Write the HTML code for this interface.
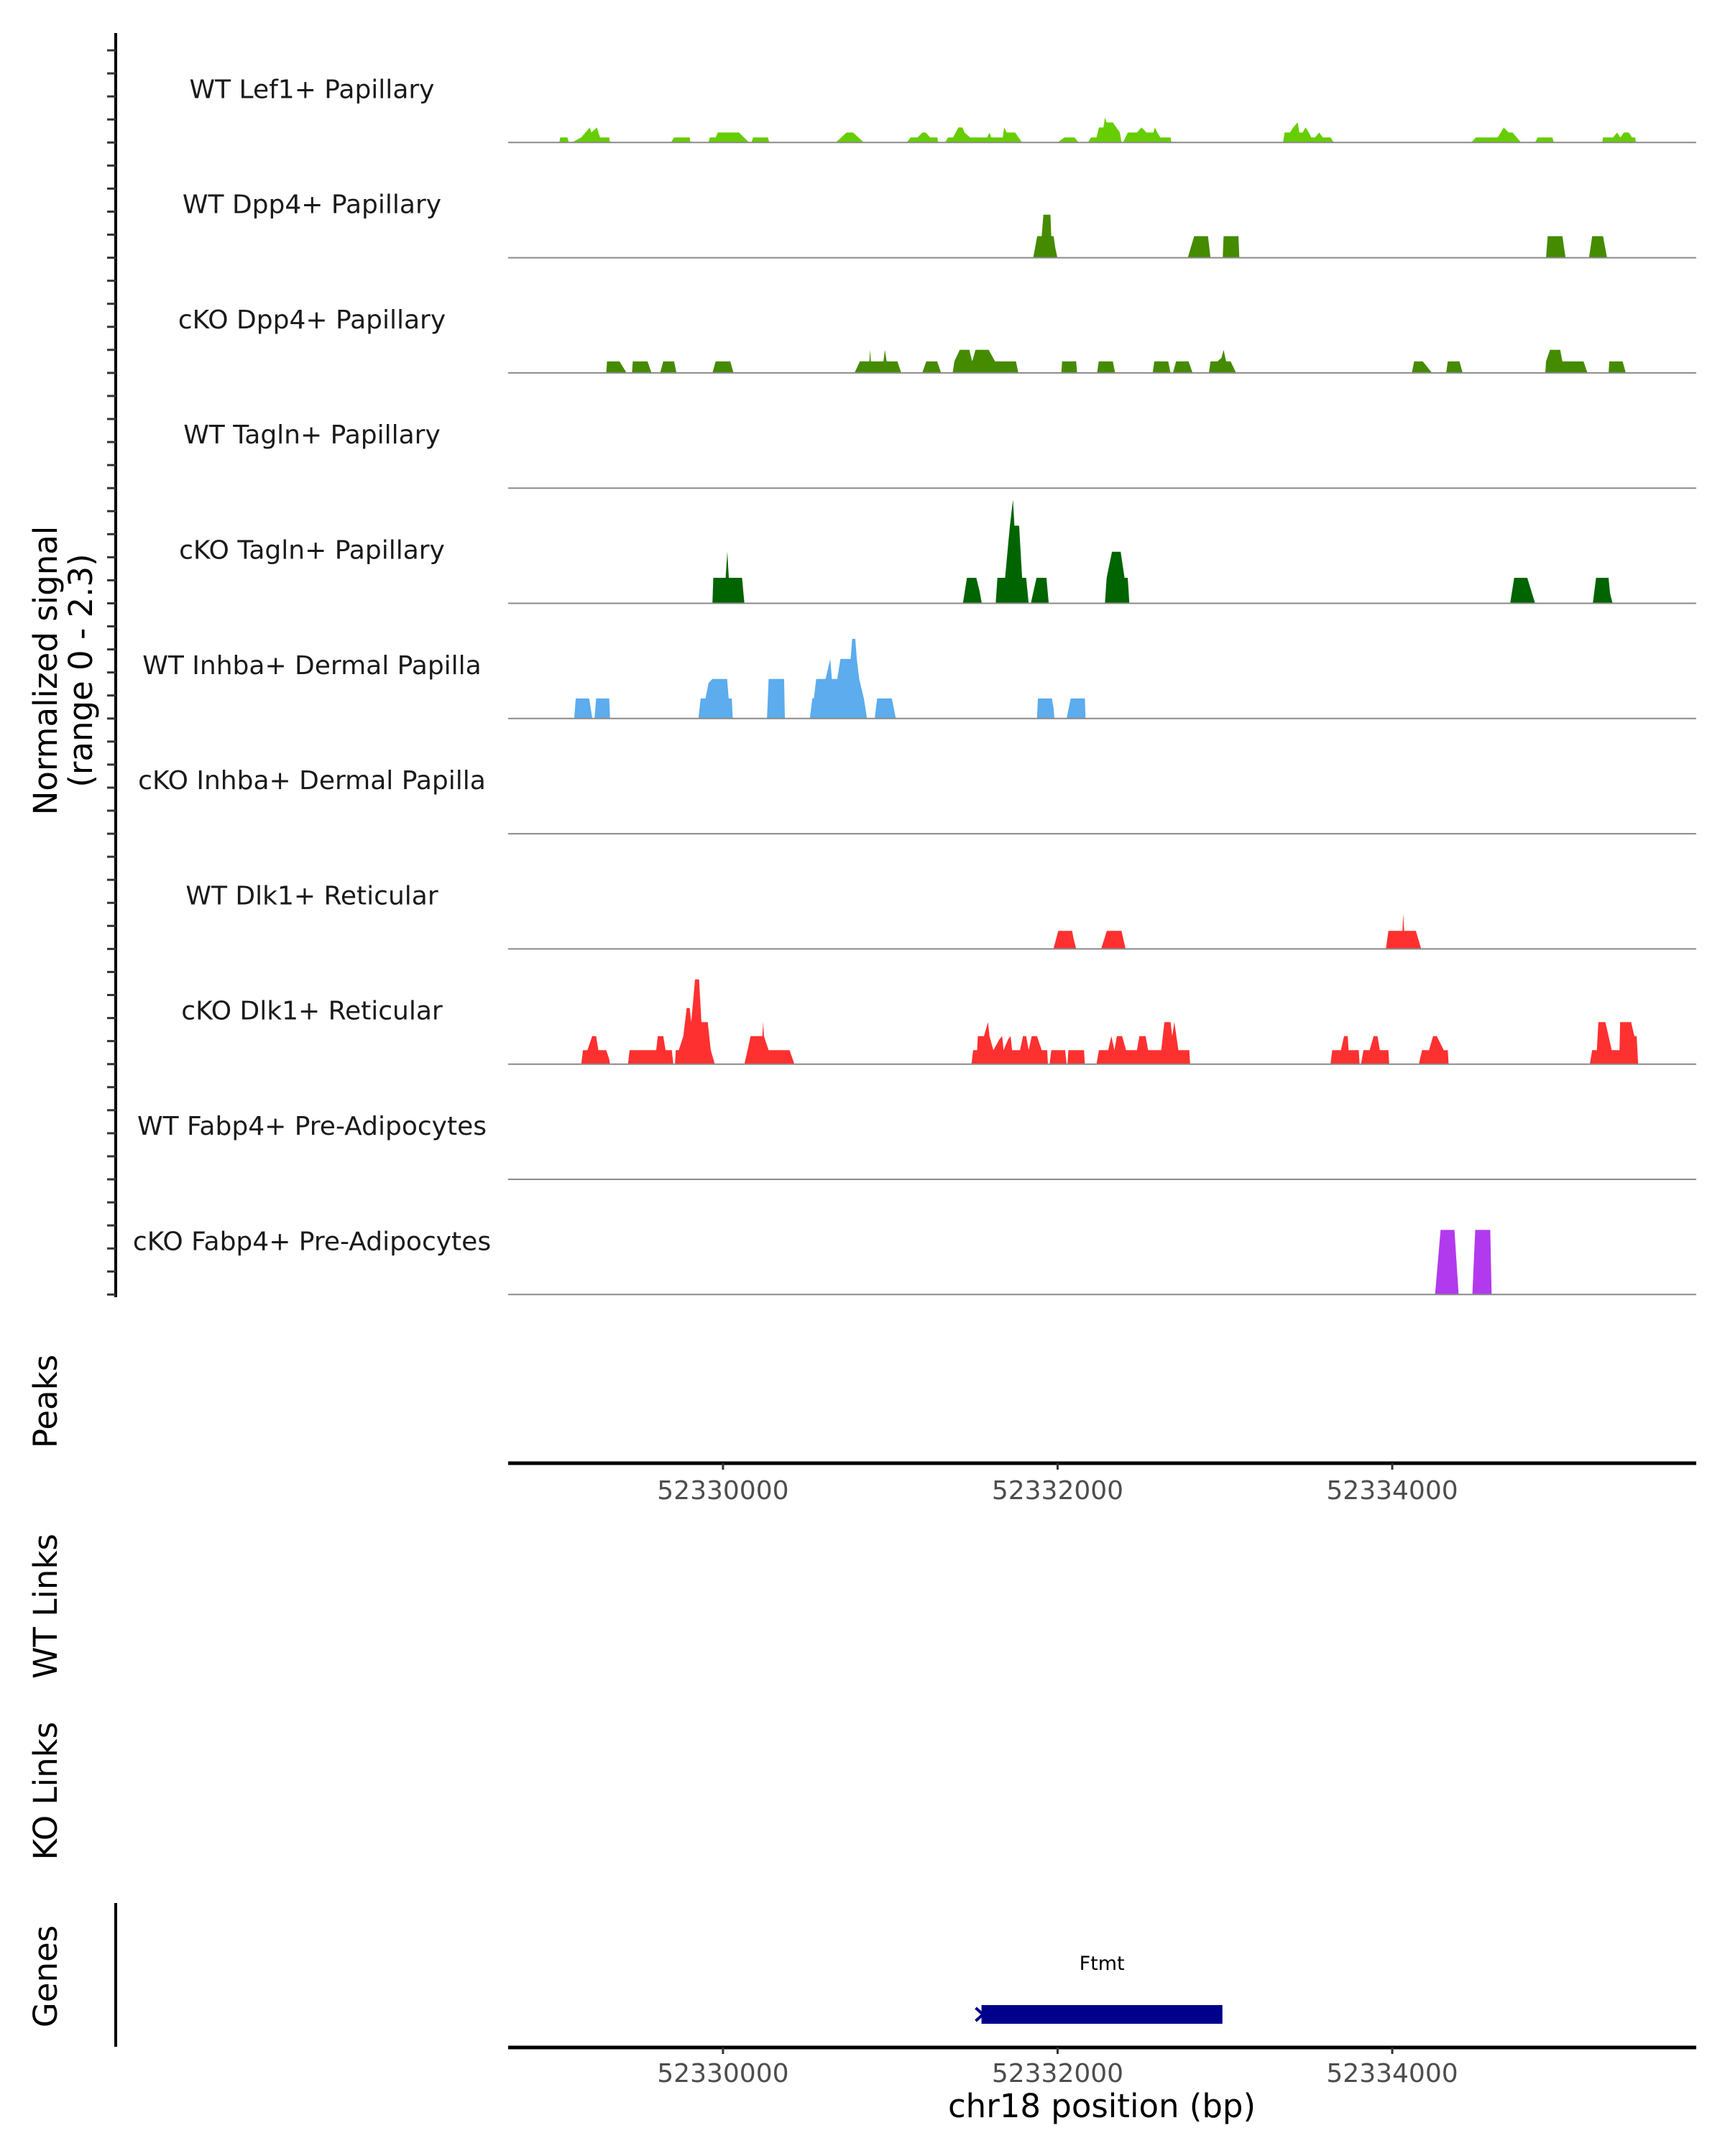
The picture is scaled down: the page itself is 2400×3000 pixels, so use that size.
<!DOCTYPE html>
<html><head><meta charset="utf-8"><style>
html,body{margin:0;padding:0;background:#fff;}
svg{display:block;font-family:"DejaVu Sans","Liberation Sans",sans-serif;}
</style></head><body>
<svg id="chart" width="2400" height="3000" viewBox="0 0 2400 3000" xmlns="http://www.w3.org/2000/svg">
<rect x="0" y="0" width="2400" height="3000" fill="#fff"/>
<g id="tracks"></g>
<g id="yaxis"></g>
<text transform="translate(79,933) rotate(-90)" text-anchor="middle" font-size="45" fill="#000">Normalized signal</text>
<text transform="translate(128,933) rotate(-90)" text-anchor="middle" font-size="45" fill="#000">(range 0 - 2.3)</text>
<text transform="translate(79,1950) rotate(-90)" text-anchor="middle" font-size="45" fill="#000">Peaks</text>
<text transform="translate(79,2235) rotate(-90)" text-anchor="middle" font-size="45" fill="#000">WT Links</text>
<text transform="translate(79,2492) rotate(-90)" text-anchor="middle" font-size="45" fill="#000">KO Links</text>
<text transform="translate(79,2750) rotate(-90)" text-anchor="middle" font-size="45" fill="#000">Genes</text>
<line x1="161" y1="2648" x2="161" y2="2848" stroke="#000" stroke-width="4"/>
<g id="xaxes"></g>
<g id="genes"></g>
<text x="1533" y="2946" text-anchor="middle" font-size="45" fill="#000">chr18 position (bp)</text>
</svg>
<script>
// ---- data ----
const trackNames = ["WT Lef1+ Papillary","WT Dpp4+ Papillary","cKO Dpp4+ Papillary","WT Tagln+ Papillary","cKO Tagln+ Papillary","WT Inhba+ Dermal Papilla","cKO Inhba+ Dermal Papilla","WT Dlk1+ Reticular","cKO Dlk1+ Reticular","WT Fabp4+ Pre-Adipocytes","cKO Fabp4+ Pre-Adipocytes"];
const trackColors = ["#66cd00","#458b00","#458b00","#006400","#006400","#5cacee","#5cacee","#ff3030","#ff3030","#b23aee","#b23aee"];
const xTicks = [52330000,52332000,52334000];
const xTickLabels = ["52330000","52332000","52334000"];
const signalMax = 2.3;

const posLef1 = [52329022,52329027,52329070,52329079, 52329097,52329153,52329204,52329213,52329246,52329265,52329320,52329325, 52329689,52329708,52329801,52329806, 52329913,52329922,52329956,52329969,52330096,52330156, 52330170,52330180,52330268,52330277, 52330674,52330739,52330777,52330842, 52331098,52331122,52331163,52331192,52331211,52331238,52331281,52331286, 52331327,52331346,52331375,52331407,52331431,52331444,52331477,52331579,52331593,52331603,52331672,52331681,52331696,52331746,52331788, 52331999,52332042,52332101,52332125, 52332181,52332200,52332232,52332247,52332274,52332283,52332293,52332330,52332372,52332382, 52332391,52332419,52332474,52332502,52332531,52332572,52332582,52332596,52332614,52332675,52332680, 52333347,52333357,52333389,52333408,52333435,52333445,52333464,52333482,52333501,52333516,52333539,52333563,52333585,52333631,52333651, 52334472,52334500,52334630,52334667,52334696,52334719,52334770, 52334854,52334869,52334957,52334966, 52335255,52335260,52335320,52335344,52335363,52335385,52335414,52335433,52335452,52335456];
const valLef1 = [0,.1,.1,0, 0,.1,.3,.2,.3,.1,.1,0, 0,.1,.1,0, 0,.1,.1,.2,.2,0, 0,.1,.1,0, 0,.2,.2,0, 0,.1,.1,.2,.2,.1,.1,0, 0,.1,.1,.3,.3,.2,.1,.1,.2,.1,.1,.3,.2,.2,0, 0,.1,.1,0, 0,.1,.1,.3,.3,.5,.4,.4,.2,0, 0,.2,.2,.3,.2,.2,.3,.2,.1,.1,0, 0,.2,.2,.3,.4,.2,.2,.3,.2,.1,.1,.2,.1,.1,0, 0,.1,.1,.3,.2,.2,0, 0,.1,.1,0, 0,.1,.1,.2,.1,.2,.2,.1,.1,0];

const posWtDpp4 = [52331854,52331878,52331905,52331915,52331957,52331962,52331976,52331986,52331999, 52332778,52332816,52332899,52332914, 52332987,52332992,52333081,52333086, 52334919,52334929,52335017,52335027,52335036, 52335176,52335195,52335260,52335284];
const valWtDpp4 = [0,.43,.43,.86,.86,.43,.43,.2,0, 0,.43,.43,0, 0,.43,.43,0, 0,.43,.43,.2,0, 0,.43,.43,0];

const posKoDpp4 = [52329302,52329307,52329382,52329424, 52329456,52329461,52329549,52329573, 52329624,52329643,52329708,52329722, 52329937,52329956,52330044,52330063, 52330786,52330818,52330875,52330879,52330884,52330959,52330968,52330978,52331042,52331066, 52331191,52331215,52331280,52331304, 52331373,52331383,52331415,52331472,52331490,52331509,52331588,52331626,52331751,52331765, 52332022,52332027,52332111,52332116, 52332236,52332246,52332330,52332344, 52332568,52332578,52332661,52332675, 52332689,52332708,52332783,52332807, 52332904,52332914,52332955,52332979,52332992,52333007,52333034,52333067, 52334117,52334131,52334183,52334238, 52334322,52334332,52334402,52334421, 52334915,52334919,52334943,52335004,52335017,52335143,52335167, 52335293,52335297,52335377,52335396];
const valKoDpp4 = [0,.23,.23,0, 0,.23,.23,0, 0,.23,.23,0, 0,.23,.23,0, 0,.23,.23,.46,.23,.23,.46,.23,.23,0, 0,.23,.23,0, 0,.23,.46,.46,.23,.46,.46,.23,.23,0, 0,.23,.23,0, 0,.23,.23,0, 0,.23,.23,0, 0,.23,.23,0, 0,.23,.23,.3,.46,.23,.23,0, 0,.23,.23,0, 0,.23,.23,0, 0,.23,.46,.46,.23,.23,0, 0,.23,.23,0];

const posWtTagln = [];
const valWtTagln = [];

const posKoTagln = [52329937,52329942,52330016,52330026,52330035,52330114,52330128, 52331434,52331458,52331514,52331533,52331547, 52331630,52331640,52331686,52331705,52331715,52331733,52331742,52331770,52331788,52331812,52331827, 52331840,52331874,52331933,52331947, 52332283,52332293,52332325,52332377,52332400,52332419,52332424,52332429, 52334705,52334729,52334807,52334854, 52335199,52335218,52335293,52335302,52335317];
const valKoTagln = [0,.51,.51,1.03,.51,.51,0, 0,.51,.51,.25,0, 0,.51,.51,1.2,1.55,2.07,1.55,1.55,.51,.51,0, 0,.51,.51,0, 0,.51,1.03,1.03,.51,.51,.25,0, 0,.51,.51,0, 0,.51,.51,.2,0];

const posWtInhba = [52329111,52329120,52329200,52329219, 52329232,52329242,52329320,52329325, 52329853,52329867,52329895,52329914,52329937,52330025,52330034,52330053,52330058, 52330263,52330273,52330365,52330370, 52330519,52330534,52330543,52330557,52330613,52330641,52330651,52330683,52330702,52330763,52330772,52330791,52330800,52330814,52330842,52330861, 52330907,52330921,52331009,52331033, 52331877,52331882,52331966,52331976,52331981, 52332054,52332078,52332163,52332167];
const valWtInhba = [0,.4,.4,0, 0,.4,.4,0, 0,.4,.4,.71,.79,.79,.4,.4,0, 0,.79,.79,0, 0,.4,.4,.79,.79,1.19,.79,.79,1.19,1.19,1.59,1.59,1.19,.79,.4,0, 0,.4,.4,0, 0,.4,.4,.2,0, 0,.4,.4,0];

const posKoInhba = [];
const valKoInhba = [];

const posWtDlk1 = [52331975,52332004,52332087,52332096,52332111, 52332260,52332294,52332382,52332406, 52333962,52333977,52334061,52334066,52334071,52334141,52334173];
const valWtDlk1 = [0,.36,.36,.2,0, 0,.36,.36,0, 0,.36,.36,.7,.36,.36,0];

const posKoDlk1 = [52329153,52329163,52329190,52329218,52329242,52329255,52329302,52329320,52329325, 52329432,52329442,52329601,52329610,52329643,52329657,52329694,52329703, 52329713,52329718,52329736,52329763,52329783,52329801,52329810,52329820,52329833,52329857,52329871,52329909,52329927,52329951, 52330128,52330147,52330165,52330235,52330240,52330245,52330273,52330398,52330427, 52331485,52331495,52331519,52331523,52331560,52331584,52331593,52331616,52331653,52331668,52331677,52331705,52331719,52331728,52331775,52331793,52331812,52331827,52331845,52331877,52331905,52331938,52331942, 52331952,52331962,52332045,52332054, 52332059,52332064,52332158,52332163, 52332232,52332247,52332302,52332321,52332340,52332354,52332386,52332409,52332474,52332489,52332526,52332541,52332619,52332638,52332675,52332685,52332698,52332722,52332787,52332792, 52333631,52333641,52333693,52333712,52333734,52333739,52333800,52333805, 52333813,52333828,52333865,52333889,52333912,52333926,52333977,52333982, 52334159,52334178,52334220,52334244,52334266,52334308,52334332,52334337, 52335181,52335195,52335223,52335232,52335274,52335293,52335312,52335358,52335362,52335428,52335447,52335461,52335470];
const valKoDlk1 = [0,.28,.28,.56,.56,.28,.28,.1,0, 0,.28,.28,.56,.56,.28,.28,0, 0,.28,.28,.56,1.12,1.12,.84,1.2,1.69,1.69,.84,.84,.28,0, 0,.28,.56,.56,.84,.56,.28,.28,0, 0,.28,.28,.56,.56,.84,.56,.28,.5,.56,.28,.5,.56,.28,.28,.56,.56,.28,.56,.56,.28,.28,0, 0,.28,.28,0, 0,.28,.28,0, 0,.28,.28,.56,.28,.56,.56,.28,.28,.56,.56,.28,.28,.84,.84,.56,.84,.28,.28,0, 0,.28,.28,.56,.56,.28,.28,0, 0,.28,.28,.56,.56,.28,.28,0, 0,.28,.28,.56,.56,.28,.28,0, 0,.28,.28,.84,.84,.56,.28,.28,.84,.84,.56,.56,0];

const posWtFabp4 = [];
const valWtFabp4 = [];

const posKoFabp4 = [52334256,52334289,52334372,52334397, 52334479,52334496,52334586,52334594];
const valKoFabp4 = [0,1.29,1.29,0, 0,1.29,1.29,0];

const geneNames = ["Ftmt"];
const geneStarts = [52331545];
const geneEnds = [52332985];

// ---- layout ----
const NS = "http://www.w3.org/2000/svg";
const plotLeft = 707, plotRight = 2360;
const bpLeft = 52328716, bpRight = 52335817;
function xScale(bp){ return plotLeft + (bp - bpLeft) / (bpRight - bpLeft) * (plotRight - plotLeft); }
const trackTop0 = 38, trackH = 160.3;
function baseline(i){ return trackTop0 + trackH * (i + 1); }
function yScale(i, v){ return baseline(i) - v / signalMax * trackH; }

const allPos = [posLef1,posWtDpp4,posKoDpp4,posWtTagln,posKoTagln,posWtInhba,posKoInhba,posWtDlk1,posKoDlk1,posWtFabp4,posKoFabp4];
const allVal = [valLef1,valWtDpp4,valKoDpp4,valWtTagln,valKoTagln,valWtInhba,valKoInhba,valWtDlk1,valKoDlk1,valWtFabp4,valKoFabp4];
const slugs = ["wt-lef1","wt-dpp4","cko-dpp4","wt-tagln","cko-tagln","wt-inhba","cko-inhba","wt-dlk1","cko-dlk1","wt-fabp4","cko-fabp4"];

function mk(tag, attrs, parent){ const e = document.createElementNS(NS, tag); for (const k in attrs) e.setAttribute(k, attrs[k]); parent.appendChild(e); return e; }

const tracksG = document.getElementById("tracks");
for (let i = 0; i < trackNames.length; i++){
  const g = mk("g", {}, tracksG);
  
  
  const pos = allPos[i], val = allVal[i];
  if (pos.length){
    let d = "M" + xScale(pos[0]).toFixed(1) + "," + baseline(i).toFixed(1);
    for (let k = 0; k < pos.length; k++) d += " L" + xScale(pos[k]).toFixed(1) + "," + yScale(i, val[k]).toFixed(1);
    d += " L" + xScale(pos[pos.length-1]).toFixed(1) + "," + baseline(i).toFixed(1) + " Z";
    const p = mk("path", {d: d, fill: trackColors[i], stroke: "none"}, g);
    
    
  }
  const bl = mk("line", {x1: plotLeft, x2: plotRight, y1: baseline(i), y2: baseline(i), stroke: "#8a8a8a", "stroke-width": 2}, g);
  
  
  const t = mk("text", {x: 434, y: baseline(i) - 75 + 13, "text-anchor": "middle", "font-size": 36, fill: "#1a1a1a"}, g);
  
  
  t.textContent = trackNames[i];
}

// y axis with ticks
const ya = document.getElementById("yaxis");
const axLine = mk("line", {x1: 161, x2: 161, y1: 46, y2: 1805, stroke: "#000", "stroke-width": 4}, ya);


for (let i = 0; i < trackNames.length; i++){
  for (let j = 0; j < 5; j++){
    const y = baseline(i) - j * trackH / 5;
    const tk = mk("line", {x1: 149, x2: 161, y1: y, y2: y, stroke: "#333", "stroke-width": 3}, ya);
    
    
  }
}

// x axes (peaks + genes)
const xa = document.getElementById("xaxes");
[[2036, 2086, "peaks"], [2849, 2897, "genes"]].forEach(([ay, ly, nm]) => {
  const l = mk("line", {x1: plotLeft, x2: plotRight, y1: ay, y2: ay, stroke: "#000", "stroke-width": 5}, xa);
  
  
  xTicks.forEach((v, k) => {
    const x = xScale(v);
    const tk = mk("line", {x1: x, x2: x, y1: ay, y2: ay + 9, stroke: "#333", "stroke-width": 3}, xa);
    
    
    const tl = mk("text", {x: x, y: ly, "text-anchor": "middle", "font-size": 36, fill: "#4d4d4d"}, xa);
    
    
    tl.textContent = xTickLabels[k];
  });
});

// genes
const gg = document.getElementById("genes");
geneNames.forEach((nm, k) => {
  const x1 = xScale(geneStarts[k]), x2 = xScale(geneEnds[k]);
  const r = mk("rect", {x: x1, y: 2790, width: x2 - x1, height: 26, fill: "#00008b"}, gg);
  
  
  const m = mk("path", {d: "M" + (x1 - 8) + ",2794 L" + (x1 + 2) + ",2803 L" + (x1 - 8) + ",2812", stroke: "#00008b", "stroke-width": 4, fill: "none"}, gg);
  
  
  const t = mk("text", {x: (x1 + x2) / 2, y: 2741, "text-anchor": "middle", "font-size": 27, fill: "#000"}, gg);
  
  
  t.textContent = nm;
});
</script>
</body></html>
